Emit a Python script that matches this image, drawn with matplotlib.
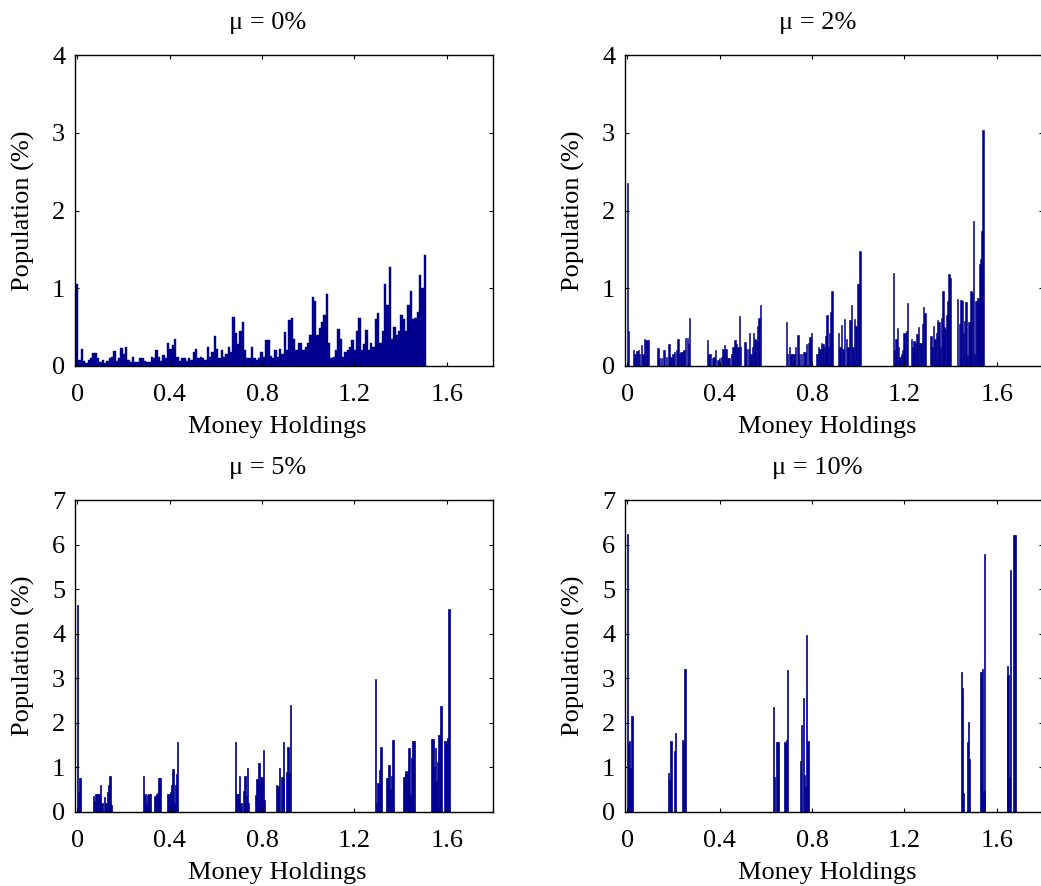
import numpy as np
import matplotlib
matplotlib.use('Agg')
import matplotlib.pyplot as plt

plt.rcParams['font.family'] = ['Liberation Serif', 'DejaVu Serif']
plt.rcParams['font.size'] = 19

BAR = '#00008f'

# mu = 0%: one bar per bin of money holdings, bins start at zero
step0 = 0.0101
pop0 = [1.05, 0.08, 0.22, 0.06, 0.04, 0.08, 0.10, 0.17, 0.17, 0.10,
        0.05, 0.08, 0.04, 0.06, 0.10, 0.12, 0.19, 0.06, 0.10, 0.23,
        0.15, 0.25, 0.08, 0.05, 0.12, 0.05, 0.05, 0.10, 0.10, 0.06,
        0.05, 0.05, 0.12, 0.10, 0.20, 0.12, 0.06, 0.14, 0.10, 0.30,
        0.22, 0.27, 0.35, 0.12, 0.06, 0.10, 0.10, 0.06, 0.10, 0.08,
        0.18, 0.22, 0.10, 0.12, 0.10, 0.08, 0.24, 0.12, 0.18, 0.38,
        0.22, 0.10, 0.20, 0.12, 0.15, 0.25, 0.18, 0.63, 0.42, 0.28,
        0.45, 0.57, 0.20, 0.10, 0.10, 0.25, 0.10, 0.08, 0.10, 0.18,
        0.12, 0.34, 0.33, 0.13, 0.10, 0.20, 0.12, 0.22, 0.15, 0.44,
        0.20, 0.59, 0.62, 0.35, 0.20, 0.30, 0.30, 0.20, 0.25, 0.30,
        0.40, 0.89, 0.84, 0.40, 0.49, 0.56, 0.65, 0.93, 0.30, 0.10,
        0.12, 0.20, 0.47, 0.35, 0.12, 0.18, 0.20, 0.25, 0.33, 0.20,
        0.45, 0.62, 0.20, 0.28, 0.46, 0.20, 0.30, 0.25, 0.60, 0.68,
        0.30, 0.45, 1.05, 0.78, 1.27, 0.35, 0.50, 0.40, 0.45, 0.65,
        0.60, 0.45, 0.78, 0.97, 0.60, 0.62, 0.70, 1.17, 1.00, 1.43]

# mu = 2%
m2 = [0.000, 0.004, 0.028, 0.033, 0.039, 0.043, 0.048, 0.053, 0.061, 0.068,
      0.075, 0.079, 0.085, 0.091,
      0.133, 0.140, 0.149, 0.156, 0.162, 0.169, 0.180, 0.189, 0.198, 0.205,
      0.212, 0.219, 0.227, 0.232, 0.238, 0.245, 0.253, 0.260, 0.264, 0.270,
      0.346, 0.354, 0.361, 0.368, 0.375, 0.382, 0.393, 0.400, 0.407, 0.414,
      0.421, 0.427, 0.436, 0.443, 0.450, 0.458, 0.466, 0.473, 0.479, 0.486,
      0.490,
      0.509, 0.517, 0.524, 0.530, 0.535, 0.541, 0.547, 0.553, 0.559, 0.564,
      0.570, 0.576,
      0.688, 0.694, 0.701, 0.709, 0.714, 0.722, 0.729, 0.739, 0.746, 0.755,
      0.762, 0.769, 0.777, 0.784, 0.791, 0.798,
      0.821, 0.827, 0.834, 0.841, 0.847, 0.854, 0.860, 0.864, 0.870, 0.876,
      0.882, 0.887,
      0.915, 0.921, 0.928, 0.934, 0.941, 0.948, 0.955, 0.961, 0.967, 0.971,
      0.977, 0.984, 0.990, 0.996, 1.003, 1.007,
      1.152, 1.157, 1.163, 1.169, 1.175, 1.180, 1.186, 1.192, 1.198, 1.204,
      1.208, 1.214,
      1.231, 1.237, 1.242, 1.248, 1.254, 1.260, 1.266, 1.271, 1.277, 1.283,
      1.289,
      1.315, 1.320, 1.326, 1.332, 1.338, 1.344, 1.349, 1.355, 1.361, 1.367,
      1.372, 1.378, 1.384, 1.388, 1.393, 1.398,
      1.431, 1.438, 1.445, 1.451, 1.455, 1.459, 1.467, 1.472, 1.478, 1.484,
      1.489, 1.494, 1.498, 1.504, 1.508, 1.514, 1.518, 1.523, 1.527, 1.531,
      1.536, 1.541]
pop2 = [2.36, 0.45, 0.20, 0.15, 0.19, 0.19, 0.20, 0.15, 0.27, 0.15,
        0.35, 0.34, 0.34, 0.34,
        0.23, 0.10, 0.10, 0.20, 0.20, 0.12, 0.28, 0.12, 0.15, 0.18,
        0.20, 0.35, 0.15, 0.18, 0.18, 0.20, 0.36, 0.36, 0.28, 0.62,
        0.34, 0.15, 0.15, 0.10, 0.12, 0.20, 0.08, 0.10, 0.12, 0.22,
        0.27, 0.22, 0.10, 0.10, 0.15, 0.25, 0.33, 0.28, 0.24, 0.64,
        0.25,
        0.31, 0.22, 0.22, 0.42, 0.15, 0.25, 0.42, 0.35, 0.32, 0.52,
        0.62, 0.79,
        0.57, 0.15, 0.25, 0.15, 0.15, 0.15, 0.25, 0.40, 0.15, 0.15,
        0.18, 0.18, 0.28, 0.30, 0.37, 0.43,
        0.16, 0.25, 0.22, 0.30, 0.28, 0.25, 0.39, 0.65, 0.25, 0.42,
        0.70, 0.97,
        0.43, 0.25, 0.53, 0.22, 0.61, 0.35, 0.25, 0.59, 0.59, 0.78,
        0.25, 0.60, 0.52, 1.06, 1.06, 1.48,
        1.20, 0.20, 0.35, 0.49, 0.25, 0.12, 0.15, 0.20, 0.42, 0.43,
        0.45, 0.81,
        0.35, 0.25, 0.32, 0.30, 0.41, 0.50, 0.30, 0.30, 0.54, 0.76,
        0.68,
        0.39, 0.25, 0.51, 0.35, 0.43, 0.59, 0.56, 0.25, 0.62, 0.96,
        0.50, 0.48, 0.65, 0.83, 1.18, 1.13,
        0.86, 0.54, 0.85, 0.83, 0.42, 0.58, 0.82, 0.14, 0.57, 0.57,
        0.97, 0.94, 1.87, 0.15, 0.83, 0.83, 0.88, 0.83, 1.31, 1.37,
        1.74, 3.03]

# mu = 5%
m5 = [0.002, 0.006, 0.012,
      0.071, 0.075, 0.081, 0.087, 0.094, 0.101, 0.107,
      0.118, 0.124, 0.130, 0.136, 0.141, 0.146,
      0.287, 0.293, 0.299, 0.304, 0.310, 0.316,
      0.336, 0.342, 0.348, 0.353, 0.358,
      0.392, 0.398, 0.404, 0.410, 0.414, 0.420, 0.426, 0.430, 0.433,
      0.685, 0.691, 0.697, 0.703, 0.708,
      0.720, 0.726, 0.732, 0.737, 0.742,
      0.772, 0.778, 0.784, 0.789, 0.795, 0.801, 0.805, 0.811,
      0.862, 0.869, 0.876, 0.883, 0.890, 0.893, 0.906, 0.912, 0.916, 0.922,
      1.290, 1.296, 1.302, 1.309, 1.315,
      1.341, 1.346, 1.349, 1.355, 1.361, 1.367,
      1.414, 1.420, 1.424, 1.430, 1.435, 1.437, 1.443, 1.447, 1.453, 1.460,
      1.535, 1.541, 1.546, 1.550, 1.554, 1.560, 1.564, 1.570, 1.575,
      1.590, 1.597, 1.605, 1.609]
pop5 = [4.65, 0.45, 0.76,
        0.37, 0.25, 0.40, 0.40, 0.40, 0.60, 0.20,
        0.34, 0.20, 0.45, 0.61, 0.80, 0.15,
        0.80, 0.40, 0.20, 0.38, 0.40, 0.40,
        0.37, 0.40, 0.43, 0.77, 0.77,
        0.40, 0.40, 0.45, 0.61, 0.96, 0.20, 0.60, 0.86, 1.56,
        1.57, 0.41, 0.41, 0.80, 0.20,
        0.46, 0.80, 0.37, 0.99, 0.20,
        0.39, 0.75, 1.10, 1.10, 0.79, 0.79, 1.39, 0.28,
        0.61, 0.58, 0.98, 0.79, 0.79, 1.58, 0.90, 1.45, 0.87, 2.39,
        2.99, 0.20, 0.64, 0.94, 1.45,
        0.76, 0.76, 1.06, 0.51, 0.81, 1.62,
        0.78, 0.83, 0.93, 0.87, 0.94, 1.43, 0.38, 1.22, 1.60, 1.60,
        1.64, 1.64, 1.02, 1.43, 0.70, 1.13, 1.73, 1.73, 2.37,
        1.60, 1.60, 1.66, 4.56]

# mu = 10%
m10 = [0.000, 0.004, 0.010, 0.016, 0.020,
       0.178, 0.183, 0.189, 0.204, 0.209,
       0.238, 0.244, 0.250,
       0.632, 0.638, 0.646, 0.652,
       0.683, 0.688, 0.694,
       0.750, 0.755, 0.762, 0.768, 0.772, 0.776, 0.782,
       1.446, 1.451, 1.454,
       1.472, 1.477, 1.483,
       1.532, 1.539, 1.544, 1.548,
       1.645, 1.649, 1.654, 1.658,
       1.672, 1.678]
pop10 = [6.24, 1.54, 1.60, 0.98, 2.16,
         0.87, 0.72, 1.60, 1.36, 1.77,
         1.62, 1.58, 3.21,
         2.35, 0.79, 1.58, 1.56,
         1.58, 1.62, 3.19,
         1.15, 1.96, 2.55, 0.83, 0.56, 3.98, 1.60,
         3.15, 2.79, 0.42,
         1.56, 2.03, 1.18,
         3.15, 3.21, 0.48, 5.78,
         3.27, 3.08, 0.79, 5.44,
         6.22, 6.22]

titles = ['\u03bc = 0%', '\u03bc = 2%', '\u03bc = 5%', '\u03bc = 10%']
xticks = [0, 0.4, 0.8, 1.2, 1.6]
xticklabels = ['0', '0.4', '0.8', '1.2', '1.6']

W, H = 1041, 886
fig = plt.figure(figsize=(W / 100, H / 100), dpi=100)
ax1 = fig.add_axes([75 / W, 520 / H, 418 / W, 311 / H])
ax2 = fig.add_axes([625 / W, 520 / H, 418 / W, 311 / H])
ax3 = fig.add_axes([75 / W, 74 / H, 418 / W, 312 / H])
ax4 = fig.add_axes([625 / W, 74 / H, 418 / W, 312 / H])

m0 = np.arange(len(pop0)) * step0
ax1.bar(m0, pop0, width=step0, color=BAR, edgecolor=BAR, linewidth=0.3)
ax2.bar(m2, pop2, width=0.006, color=BAR, edgecolor=BAR, linewidth=0.4)
ax3.bar(m5, pop5, width=0.006, color=BAR, edgecolor=BAR, linewidth=0.5)
ax4.bar(m10, pop10, width=0.006, color=BAR, edgecolor=BAR, linewidth=0.5)

for ax, title, ytop in zip([ax1, ax2, ax3, ax4], titles, [4, 4, 7, 7]):
    ax.set_xlim(-0.01, 1.8)
    ax.set_ylim(0, ytop)
    ax.set_xticks(xticks)
    ax.set_xticklabels(xticklabels)
    ax.set_yticks(range(ytop + 1))
    ax.tick_params(direction='in', top=True, right=True, length=3, width=0.8)
    ax.tick_params(axis='x', pad=13)
    ax.tick_params(axis='y', pad=7)
    for s in ax.spines.values():
        s.set_linewidth(1.0)
    ax.set_title(title, fontsize=19, pad=19, x=0.46)
    ax.set_xlabel('Money Holdings', labelpad=5)
    ax.xaxis.set_label_coords(0.485, -0.16)
    ax.set_ylabel('Population (%)', labelpad=12)

fig.savefig('out.png', dpi=100)
